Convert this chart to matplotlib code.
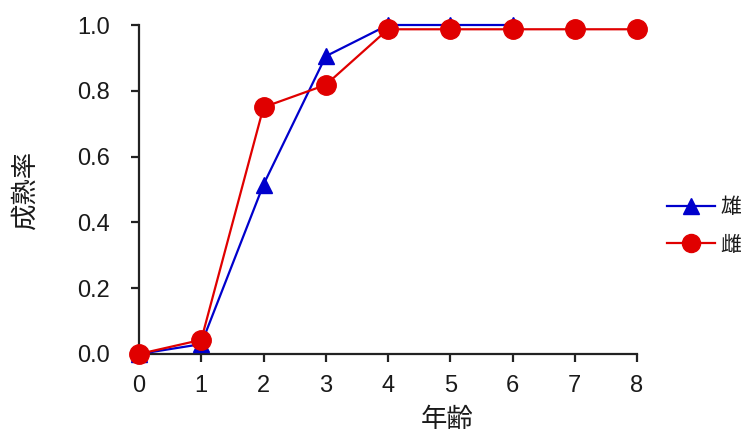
import matplotlib
matplotlib.use("Agg")
import matplotlib.pyplot as plt
from matplotlib.lines import Line2D

plt.rcParams['font.family'] = ['Liberation Sans', 'Noto Sans CJK JP', 'DejaVu Sans']

# Data
ages_male = [0, 1, 2, 3, 4, 5, 6]
male = [0.0, 0.03, 0.515, 0.905, 1.0, 1.0, 1.0]
ages_female = [0, 1, 2, 3, 4, 5, 6, 7, 8]
female = [0.0, 0.043, 0.75, 0.818, 0.987, 0.987, 0.987, 0.987, 0.987]
xticks = [0, 1, 2, 3, 4, 5, 6, 7, 8]
yticks = [0.0, 0.2, 0.4, 0.6, 0.8, 1.0]
labels = ['雄', '雌']

W, H = 748, 438
fig = plt.figure(figsize=(W / 100, H / 100), dpi=100)
ax = fig.add_axes([139 / W, 1 - 354 / H, (637 - 139) / W, (354 - 25) / H])

blue = '#0000CC'
red = '#E00000'
ax.plot(ages_male, male, color=blue, lw=1.6, marker='^', ms=12,
        markeredgecolor=blue, markerfacecolor=blue, clip_on=False, zorder=3)
ax.plot(ages_female, female, color=red, lw=1.6, marker='o', ms=14,
        markeredgecolor=red, markerfacecolor=red, clip_on=False, zorder=4)

ax.set_xlim(0, 8)
ax.set_ylim(0, 1.0)
ax.set_xticks(xticks)
ax.set_yticks(yticks)
ax.set_yticklabels([f'{v:.1f}' for v in yticks])
for s in ['top', 'right']:
    ax.spines[s].set_visible(False)
for s in ['left', 'bottom']:
    ax.spines[s].set_linewidth(1.6)
    ax.spines[s].set_color('#222222')
ax.tick_params(direction='out', length=6, width=1.6, color='#222222',
               labelsize=17, labelcolor='#1a1a1a')
ax.tick_params(axis='y', pad=15)
ax.tick_params(axis='x', pad=9)

fig.text(447 / W, 1 - 420 / H, '年齢', ha='center', va='center', fontsize=19,
         color='#1a1a1a')
fig.text(25 / W, 1 - 190 / H, '成熟率', ha='center', va='center', fontsize=19,
         rotation=90, color='#1a1a1a')

handles = [
    Line2D([], [], color=blue, lw=1.6, marker='^', ms=11),
    Line2D([], [], color=red, lw=1.6, marker='o', ms=13),
]
leg = fig.legend(handles, labels, loc='center left',
                 bbox_to_anchor=(667 / W, 1 - 226 / H), frameon=False,
                 borderpad=0, borderaxespad=0,
                 fontsize=15, handlelength=2.3, handletextpad=0.25,
                 labelspacing=0.9)
for t in leg.get_texts():
    t.set_color('#1a1a1a')

fig.savefig('out.png', dpi=100)
